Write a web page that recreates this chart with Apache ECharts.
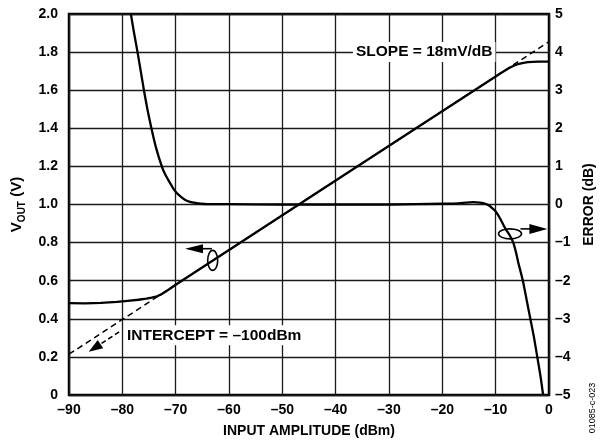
<!DOCTYPE html>
<html><head><meta charset="utf-8">
<script src="https://cdn.jsdelivr.net/npm/echarts@6/dist/echarts.min.js"></script>
<style>html,body{margin:0;padding:0;background:#fff}#c{width:606px;height:443px}</style>
</head><body><div id="c"></div>
<script>
// ---- data ----
const xTicks = [-90,-80,-70,-60,-50,-40,-30,-20,-10,0];
const xTickLabels = ['–90','–80','–70','–60','–50','–40','–30','–20','–10','0'];
const vTicks = [0,0.2,0.4,0.6,0.8,1.0,1.2,1.4,1.6,1.8,2.0];
const vTickLabels = ['0','0.2','0.4','0.6','0.8','1.0','1.2','1.4','1.6','1.8','2.0'];
const errTicks = [-5,-4,-3,-2,-1,0,1,2,3,4,5];
const errTickLabels = ['–5','–4','–3','–2','–1','0','1','2','3','4','5'];

// VOUT (V) vs input amplitude (dBm)
const voutX = [-90,-87,-84,-81,-79,-77,-75.5,-74.5,-73.5,-72.7,-72,-71,-70,-40,-10,-9,-8,-7.5,-7,-6.5,-6,-5,-4,-3,-2,0];
const voutY = [0.482,0.481,0.484,0.489,0.494,0.500,0.506,0.511,0.518,0.528,0.541,0.559,0.579,1.126,1.672,1.690,1.707,1.716,1.723,1.730,1.735,1.742,1.747,1.749,1.750,1.750];

// ideal slope line (dashed)
const fitX = [-90,0];
const fitY = [0.214,1.855];

// ERROR (dB) vs input amplitude (dBm)
const errX = [-78.4,-77.8,-77.15,-76.55,-75.95,-75.3,-74.55,-73.7,-72.6,-72.0,-71.2,-70.5,-69.8,-69.0,-68.2,-67.3,-66.3,-65.3,-64,-60,-50,-40,-30,-20,-17,-15.5,-14.2,-13,-12.2,-11.6,-11.1,-10.7,-10.2,-9.8,-9.2,-8.5,-8.0,-7.4,-6.7,-6.2,-5.8,-4.9,-4.2,-3.5,-2.8,-2.2,-1.6,-1.1];
const errY = [5,4.5,4,3.5,3,2.5,2,1.5,1.0,0.8,0.6,0.43,0.3,0.2,0.12,0.07,0.04,0.02,0.01,0.01,0,0,0,0.02,0.03,0.05,0.06,0.05,0.03,0,-0.04,-0.09,-0.15,-0.22,-0.36,-0.55,-0.67,-0.8,-1.0,-1.25,-1.5,-2.0,-2.5,-3.0,-3.5,-4.0,-4.5,-5.0];

const FONT = '"Liberation Sans", Arial, sans-serif';
function lab(ticks, labels){ return v => { const i = ticks.findIndex(t => Math.abs(t - v) < 1e-6); return i < 0 ? '' : labels[i]; }; }
function pairs(xs, ys){ return xs.map((x,i)=>[x, ys[i]]); }

const chart = echarts.init(document.getElementById('c'), null, {renderer:'canvas'});
const labelStyle = {color:'#000', fontFamily:FONT, fontWeight:'bold', fontSize:14};
chart.setOption({
  animation:false,
  backgroundColor:'#fff',
  grid:{left:69, right:57, top:14, bottom:46, show:true, borderColor:'#000', borderWidth:2.5, backgroundColor:'transparent'},
  xAxis:{type:'value', min:-90, max:0, interval:10,
    axisLine:{show:false}, axisTick:{show:false},
    splitLine:{show:true, lineStyle:{color:'#1a1a1a', width:1.3}},
    axisLabel:Object.assign({margin:8, formatter:lab(xTicks,xTickLabels)}, labelStyle),
    name:'INPUT AMPLITUDE (dBm)', nameLocation:'middle', nameGap:29,
    nameTextStyle:{color:'#000', fontFamily:FONT, fontWeight:'bold', fontSize:14}
  },
  yAxis:[
    {type:'value', min:0, max:2, interval:0.2, position:'left',
      axisLine:{show:false}, axisTick:{show:false},
      splitLine:{show:true, lineStyle:{color:'#1a1a1a', width:1.3}},
      axisLabel:Object.assign({margin:11, formatter:lab(vTicks,vTickLabels)}, labelStyle),
      name:'{a|V}{b|OUT}{a| (V)}', nameLocation:'middle', nameGap:44, nameRotate:90,
      nameTextStyle:{color:'#000', fontFamily:FONT, fontWeight:'bold', fontSize:14,
        rich:{a:{fontFamily:FONT, fontWeight:'bold', fontSize:15, color:'#000', verticalAlign:'bottom'},
              b:{fontFamily:FONT, fontWeight:'bold', fontSize:10, color:'#000', verticalAlign:'bottom', padding:[0,0,-3,0]}}}
    },
    {type:'value', min:-5, max:5, interval:1, position:'right',
      axisLine:{show:false}, axisTick:{show:false}, splitLine:{show:false},
      axisLabel:Object.assign({margin:6, formatter:lab(errTicks,errTickLabels)}, labelStyle),
      name:'ERROR (dB)', nameLocation:'middle', nameGap:33, nameRotate:90,
      nameTextStyle:{color:'#000', fontFamily:FONT, fontWeight:'bold', fontSize:14}
    }
  ],
  series:[
    {type:'line', name:'fit', data:pairs(fitX,fitY), yAxisIndex:0, symbol:'none',
      lineStyle:{color:'#000', width:1.5, type:[6,4]}, z:2},
    {type:'line', name:'vout', data:pairs(voutX,voutY), yAxisIndex:0, symbol:'none', smooth:false,
      lineStyle:{color:'#000', width:2.3, join:'round'}, z:3},
    {type:'line', name:'err', data:pairs(errX,errY), yAxisIndex:1, symbol:'none', smooth:0.2,
      lineStyle:{color:'#000', width:2.3, join:'round'}, z:3}
  ]
});

// ---- annotations (anchored to data coordinates) ----
function P(x, v){ return chart.convertToPixel({gridIndex:0}, [x, v]); }
const annFont = 'bold 15.5px ' + FONT;
const g = [];
// slope label
let p = P(-23.4, 1.8);
g.push({type:'text', z:50, style:{text:'SLOPE = 18mV/dB', x:p[0], y:p[1], align:'center', verticalAlign:'middle', font:annFont, fill:'#000', backgroundColor:'#fff', padding:[2,3]}});
// intercept label
p = P(-79.7, 0.313);
g.push({type:'text', z:50, style:{text:'INTERCEPT = –100dBm', x:p[0], y:p[1], align:'left', verticalAlign:'middle', font:annFont, fill:'#000', backgroundColor:'#fff', padding:[2,3]}});
// intercept dashed arrow
let a = P(-80.6, 0.331), t = P(-86.3, 0.227);
let dx = t[0]-a[0], dy = t[1]-a[1], L = Math.hypot(dx,dy), ux = dx/L, uy = dy/L, nx = -uy, ny = ux;
g.push({type:'line', z:40, shape:{x1:a[0], y1:a[1], x2:t[0]-ux*10, y2:t[1]-uy*10}, style:{stroke:'#000', lineWidth:1.6, lineDash:[5,3]}});
g.push({type:'polygon', z:40, shape:{points:[[t[0],t[1]],[t[0]-ux*14+nx*5,t[1]-uy*14+ny*5],[t[0]-ux*14-nx*5,t[1]-uy*14-ny*5]]}, style:{fill:'#000'}});
// left ellipse + arrow (points to VOUT axis)
p = P(-63.06, 0.7065);
g.push({type:'ellipse', z:40, shape:{cx:p[0], cy:p[1], rx:5, ry:10}, style:{fill:'transparent', stroke:'#000', lineWidth:1.6}});
a = P(-63.2, 0.768); t = P(-68.25, 0.768);
g.push({type:'line', z:40, shape:{x1:a[0], y1:a[1], x2:t[0]+10, y2:t[1]}, style:{stroke:'#000', lineWidth:1.6}});
g.push({type:'polygon', z:40, shape:{points:[[t[0],t[1]],[t[0]+18,t[1]-4.5],[t[0]+18,t[1]+4.5]]}, style:{fill:'#000'}});
// right ellipse + arrow (points to ERROR axis)
p = P(-7.31, 0.846);
g.push({type:'ellipse', z:40, shape:{cx:p[0], cy:p[1], rx:11.5, ry:5}, style:{fill:'transparent', stroke:'#000', lineWidth:1.6}});
a = P(-5.35, 0.872); t = P(-0.3, 0.872);
g.push({type:'line', z:40, shape:{x1:a[0], y1:a[1], x2:t[0]-10, y2:t[1]}, style:{stroke:'#000', lineWidth:1.6}});
g.push({type:'polygon', z:40, shape:{points:[[t[0],t[1]],[t[0]-18,t[1]-5],[t[0]-18,t[1]+5]]}, style:{fill:'#000'}});
// figure code
g.push({type:'text', z:50, x:593, y:408, rotation:Math.PI/2, style:{text:'01085-c-023', x:0, y:0, align:'center', verticalAlign:'middle', font:'9px ' + FONT, fill:'#000'}});
chart.setOption({graphic:g});
</script>
</body></html>
